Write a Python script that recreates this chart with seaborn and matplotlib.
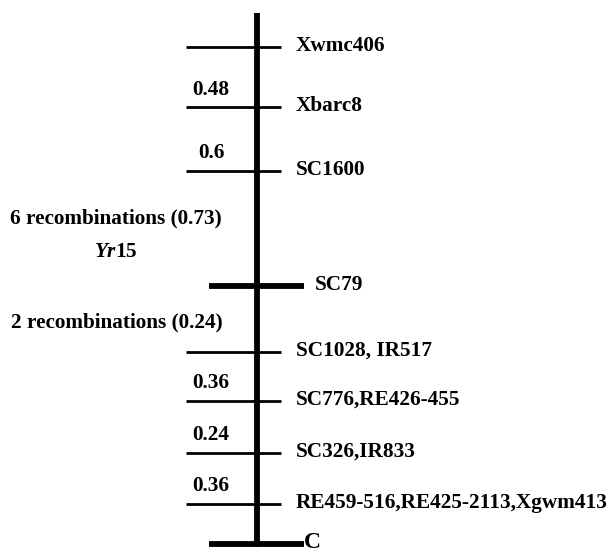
import matplotlib
matplotlib.use('Agg')
import matplotlib.pyplot as plt
import seaborn as sns
import pandas as pd

sns.set_theme(style="white")
plt.rcParams['font.family'] = ['Liberation Serif', 'DejaVu Serif']
plt.rcParams['text.color'] = 'black'
plt.rcParams['mathtext.fontset'] = 'custom'
plt.rcParams['mathtext.it'] = 'Liberation Serif:italic:bold'
plt.rcParams['mathtext.rm'] = 'Liberation Serif:bold'

# marker names and their drawn position along the chromosome (top -> bottom)
markers = ["Xwmc406", "Xbarc8", "SC1600", "SC79", "SC1028, IR517",
           "SC776,RE426-455", "SC326,IR833", "RE459-516,RE425-2113,Xgwm413", "C"]
marker_pos = [47, 107, 171, 286, 352, 401, 453, 504, 544]
marker_thick = [False, False, False, True, False, False, False, False, True]

# genetic distance labels between adjacent markers
interval_labels = ["0.48", "0.6", "0.36", "0.24", "0.36"]
interval_pos = [90, 153, 383, 435, 486]

df = pd.DataFrame({"marker": markers, "pos": marker_pos, "thick": marker_thick})

fig = plt.figure(figsize=(6.1, 5.51), dpi=100)
ax = fig.add_axes([0, 0, 1, 1])
ax.set_xlim(0, 610)
ax.set_ylim(551, 0)
ax.axis('off')

fs = 15.3
chrom_x = 257
# chromosome backbone
ax.vlines(chrom_x, 13, 547, color='black', linewidth=4.2)

for _, r in df.iterrows():
    if r.thick:
        ax.hlines(r.pos, chrom_x - 48, chrom_x + 47, color='black', linewidth=4.2)
        if r.marker == "C":
            ax.text(chrom_x + 47, r.pos - 2, r.marker, fontsize=17, fontweight='bold',
                    va='center', ha='left')
        else:
            ax.text(chrom_x + 58, r.pos - 1, r.marker, fontsize=fs, fontweight='bold',
                    va='center', ha='left')
    else:
        ax.hlines(r.pos, chrom_x - 71, chrom_x + 24, color='black', linewidth=2.0)
        ax.text(chrom_x + 39, r.pos - 1, r.marker, fontsize=fs, fontweight='bold',
                va='center', ha='left')

for lab, y in zip(interval_labels, interval_pos):
    ax.text(211, y, lab, fontsize=fs, fontweight='bold', va='center', ha='center')

ax.text(116, 218, "6 recombinations (0.73)", fontsize=fs, fontweight='bold',
        va='center', ha='center')
ax.text(116, 252, r"$\mathit{Yr}$15", fontsize=fs, fontweight='bold',
        va='center', ha='center')
ax.text(117, 322, "2 recombinations (0.24)", fontsize=fs, fontweight='bold',
        va='center', ha='center')

fig.savefig("out.png", dpi=100)
